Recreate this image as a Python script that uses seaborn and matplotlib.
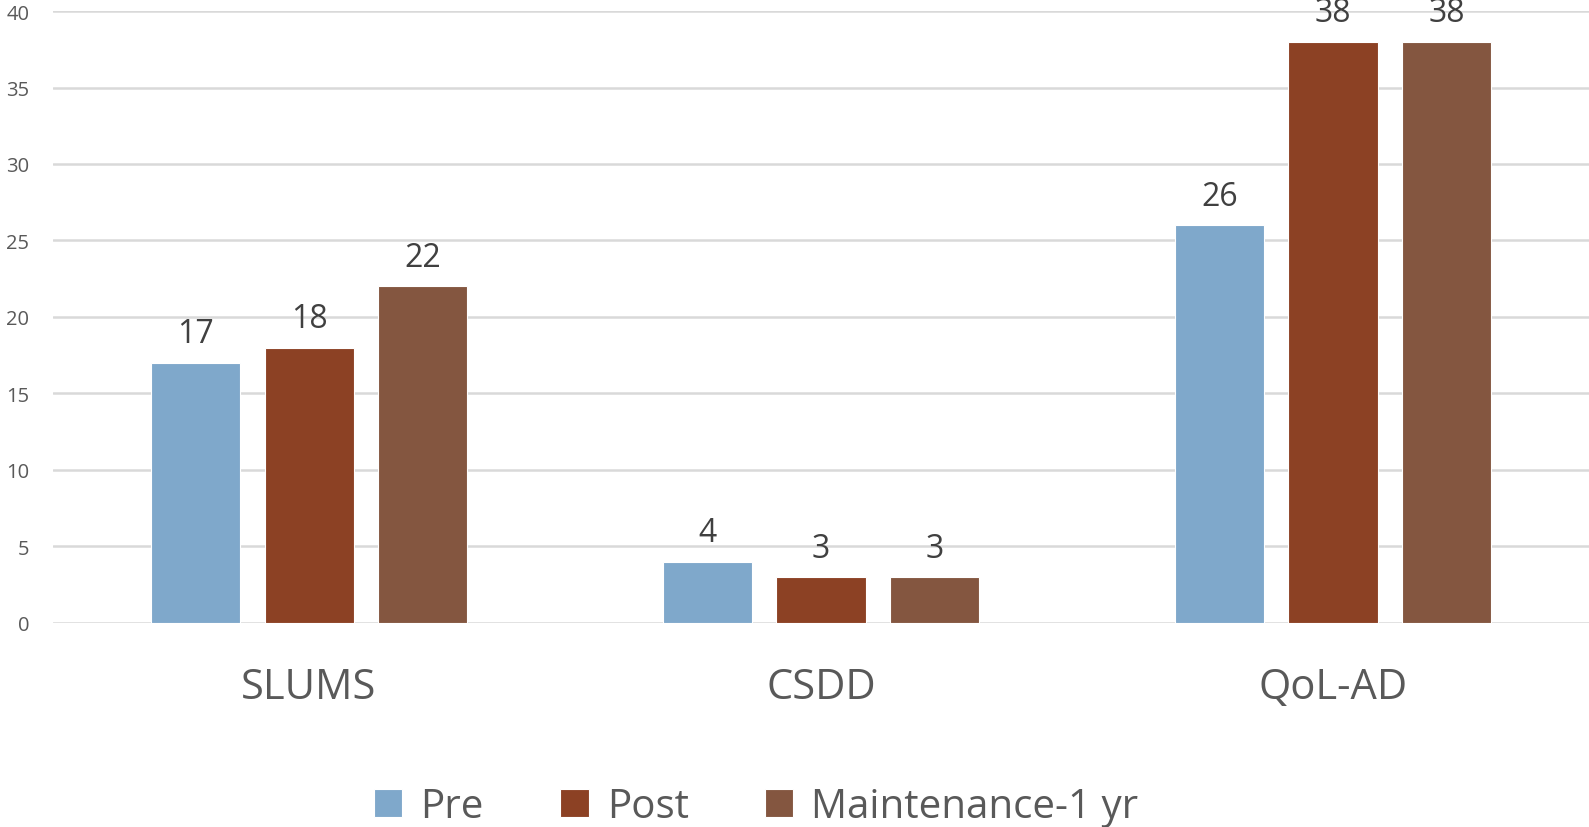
import matplotlib
matplotlib.use("Agg")
import matplotlib.pyplot as plt
import seaborn as sns
import pandas as pd

categories = ["SLUMS", "CSDD", "QoL-AD"]
series_names = ["Pre", "Post", "Maintenance-1 yr"]
pre = [17, 4, 26]
post = [18, 3, 38]
maint = [22, 3, 38]
yticks = [0, 5, 10, 15, 20, 25, 30, 35, 40]
colors = ["#7FA8CB", "#8C4124", "#845640"]

rows = []
for name, vals in zip(series_names, [pre, post, maint]):
    for c, v in zip(categories, vals):
        rows.append({"cat": c, "series": name, "value": v})
df = pd.DataFrame(rows)

sns.set_theme(style="white")
plt.rcParams["font.family"] = ["Open Sans", "DejaVu Sans"]

fig = plt.figure(figsize=(15.89, 8.28), dpi=100)
ax = fig.add_axes([0.0334, 0.2464, 0.9666, 0.7391])

sns.barplot(data=df, x="cat", y="value", hue="series", order=categories,
            hue_order=series_names, palette=colors, width=0.666, gap=0.216,
            edgecolor="white", linewidth=0.8, ax=ax, legend=True, saturation=1)

for cont in ax.containers:
    ax.bar_label(cont, fmt="%d", padding=9, fontsize=23, color="#404040")

ax.set_xlim(-0.5, 2.5)
ax.set_ylim(0, 40)
ax.set_yticks(yticks)
ax.yaxis.grid(True, color="#D9D9D9", linewidth=1.8)
ax.set_axisbelow(True)
for s in ax.spines.values():
    s.set_visible(False)
ax.set_xlabel("")
ax.set_ylabel("")
ax.tick_params(axis="y", labelsize=14.5, colors="#595959", length=0, pad=17)
ax.tick_params(axis="x", labelsize=30, colors="#595959", length=0, pad=31)

handles, labels = ax.get_legend_handles_labels()
ax.get_legend().remove()
fig.legend(handles, labels, loc="center", bbox_to_anchor=(0.476, 0.024),
           ncol=3, frameon=False, fontsize=29, handlelength=0.7, handleheight=0.7,
           columnspacing=1.9, handletextpad=0.45, labelcolor="#595959")

fig.savefig("out.png", dpi=100, facecolor="white")
